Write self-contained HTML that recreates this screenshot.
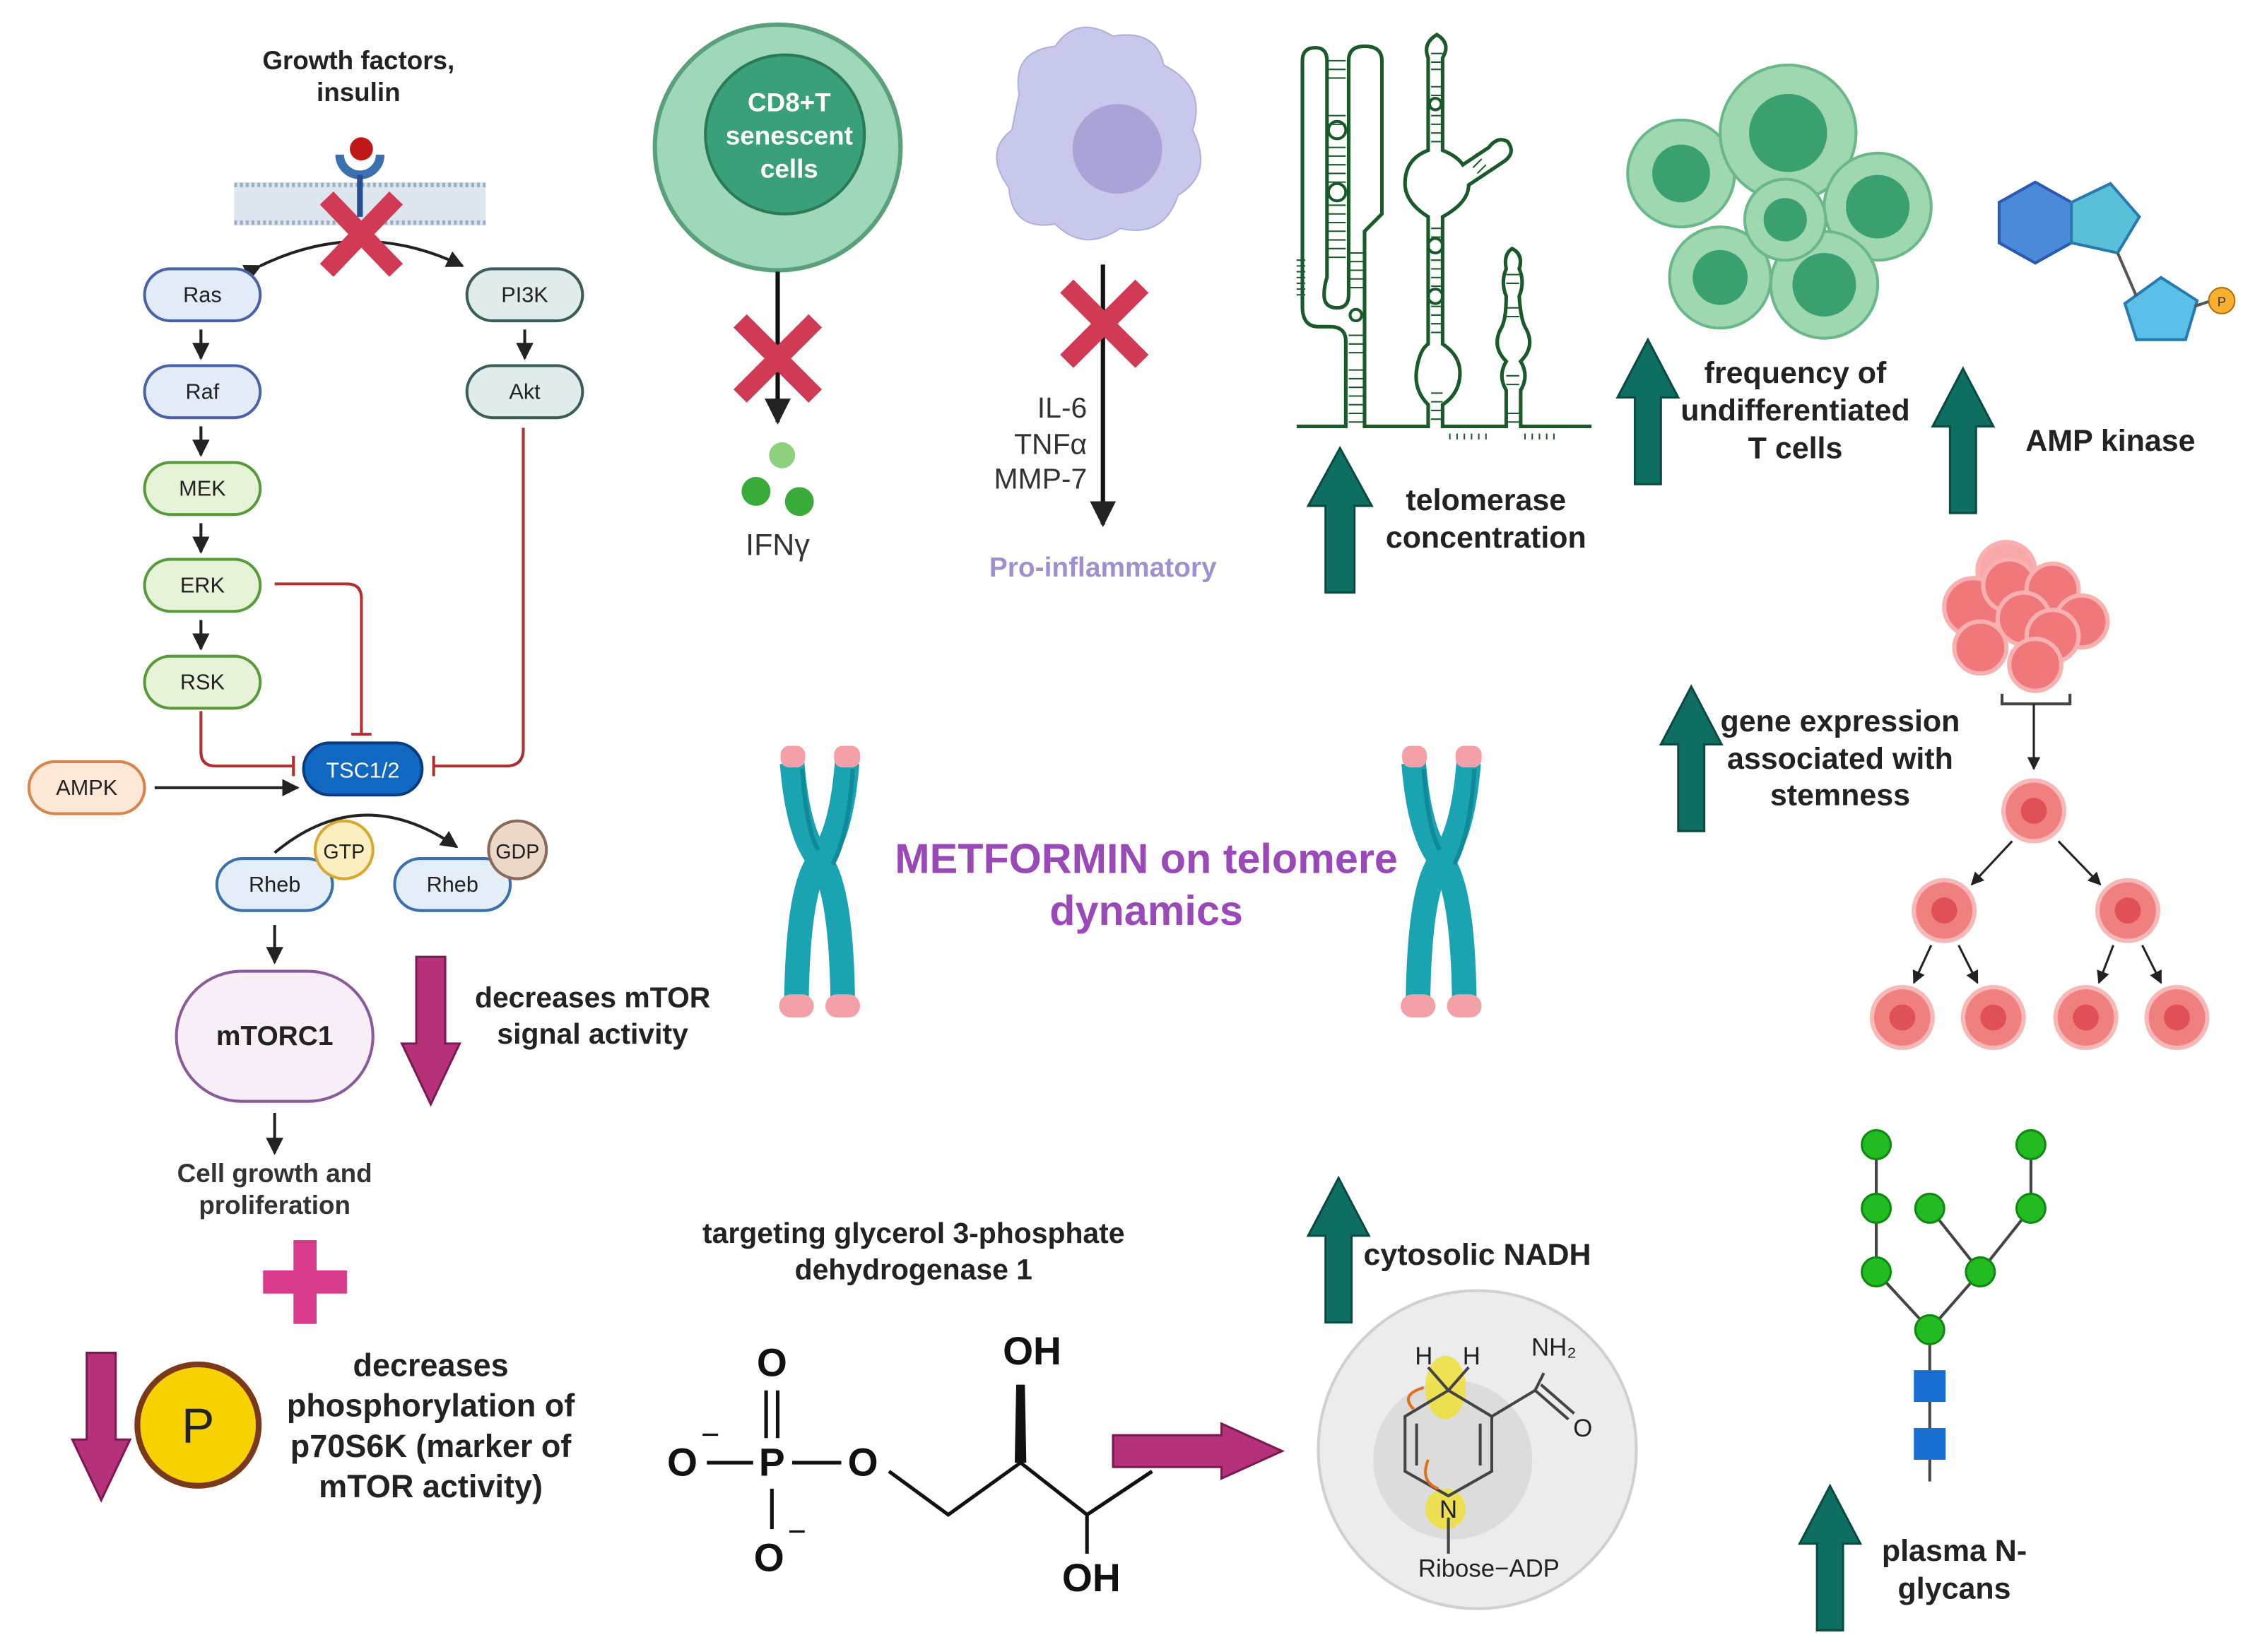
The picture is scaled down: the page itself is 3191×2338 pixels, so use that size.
<!DOCTYPE html>
<html><head><meta charset="utf-8"><style>
html,body{margin:0;padding:0;background:#fff;}
svg{display:block;}
text{font-family:"Liberation Sans",sans-serif;}
.b{font-weight:bold;}
</style></head><body>
<svg width="3191" height="2338" viewBox="0 0 1560 1143" xmlns="http://www.w3.org/2000/svg">
<defs>
<marker id="ah" viewBox="0 0 10 10" refX="9" refY="5" markerWidth="6" markerHeight="6" orient="auto"><path d="M0,0 L10,5 L0,10 z" fill="#222"/></marker>
</defs>
<rect width="1560" height="1143" fill="#fff"/>

<!-- Left pathway -->
<text x="248" y="48" text-anchor="middle" font-size="18" class="b" fill="#222">Growth factors,</text>
<text x="248" y="70" text-anchor="middle" font-size="18" class="b" fill="#222">insulin</text>
<rect x="162" y="126" width="174" height="30" fill="#dde6ee"/>
<g stroke="#9bb0c4" stroke-width="3" stroke-dasharray="2 2"><line x1="162" y1="128" x2="336" y2="128"/><line x1="162" y1="154" x2="336" y2="154"/></g>
<path d="M235,107 A14,14 0 0 0 263,107" fill="none" stroke="#3a6fb0" stroke-width="6"/>
<line x1="249" y1="121" x2="249" y2="150" stroke="#2a4f90" stroke-width="4"/>
<circle cx="250" cy="103" r="8" fill="#c01818"/>
<path d="M180,184 Q250,150 320,184" fill="none" stroke="#222" stroke-width="2" marker-start="url(#ah)" marker-end="url(#ah)"/>
<g stroke="#d03a55" stroke-width="13"><line x1="226" y1="137" x2="274" y2="187"/><line x1="274" y1="137" x2="226" y2="187"/></g>

<g font-size="15" text-anchor="middle" fill="#222">
<rect x="100" y="186" width="80" height="36" rx="18" fill="#e3eaf8" stroke="#4a62a8" stroke-width="2"/><text x="140" y="209">Ras</text>
<rect x="100" y="253" width="80" height="36" rx="18" fill="#e3eaf8" stroke="#4a62a8" stroke-width="2"/><text x="140" y="276">Raf</text>
<rect x="100" y="320" width="80" height="36" rx="18" fill="#e6f3d8" stroke="#5a9a3a" stroke-width="2"/><text x="140" y="343">MEK</text>
<rect x="100" y="387" width="80" height="36" rx="18" fill="#e6f3d8" stroke="#5a9a3a" stroke-width="2"/><text x="140" y="410">ERK</text>
<rect x="100" y="454" width="80" height="36" rx="18" fill="#e6f3d8" stroke="#5a9a3a" stroke-width="2"/><text x="140" y="477">RSK</text>
<rect x="323" y="186" width="80" height="36" rx="18" fill="#dfeceb" stroke="#3c5c5a" stroke-width="2"/><text x="363" y="209">PI3K</text>
<rect x="323" y="253" width="80" height="36" rx="18" fill="#dfeceb" stroke="#3c5c5a" stroke-width="2"/><text x="363" y="276">Akt</text>
<rect x="210" y="514" width="82" height="36" rx="18" fill="#1068c0" stroke="#0a3a80" stroke-width="2"/><text x="251" y="538" fill="#fff">TSC1/2</text>
<rect x="20" y="527" width="80" height="36" rx="18" fill="#fde8d8" stroke="#d8844a" stroke-width="2"/><text x="60" y="550">AMPK</text>
<rect x="150" y="594" width="80" height="36" rx="18" fill="#e3eef8" stroke="#3a6fb0" stroke-width="2"/><text x="190" y="617">Rheb</text>
<rect x="273" y="594" width="80" height="36" rx="18" fill="#e3eef8" stroke="#3a6fb0" stroke-width="2"/><text x="313" y="617">Rheb</text>
<circle cx="238" cy="588" r="20" fill="#fbeec0" stroke="#d8a830" stroke-width="2"/><text x="238" y="594" font-size="14">GTP</text>
<circle cx="358" cy="588" r="20" fill="#ecd8c8" stroke="#8a6a5a" stroke-width="2"/><text x="358" y="594" font-size="14">GDP</text>
<rect x="122" y="672" width="136" height="90" rx="45" fill="#f8eef8" stroke="#8a5a9a" stroke-width="2"/><text x="190" y="723" font-size="19" class="b">mTORC1</text>
</g>
<g stroke="#222" stroke-width="2" marker-end="url(#ah)">
<line x1="139" y1="228" x2="139" y2="248"/><line x1="139" y1="295" x2="139" y2="315"/><line x1="139" y1="362" x2="139" y2="382"/><line x1="139" y1="429" x2="139" y2="449"/>
<line x1="363" y1="228" x2="363" y2="248"/>
<line x1="107" y1="545" x2="206" y2="545"/>
<line x1="190" y1="640" x2="190" y2="666"/>
<line x1="190" y1="770" x2="190" y2="798"/>
</g>
<path d="M190,590 Q250,540 316,586" fill="none" stroke="#222" stroke-width="2" marker-end="url(#ah)"/>
<g stroke="#b03030" stroke-width="2" fill="none">
<path d="M190,404 H240 Q250,404 250,414 V508"/><line x1="243" y1="508" x2="257" y2="508"/>
<path d="M139,492 V520 Q139,530 149,530 H203"/><line x1="203" y1="523" x2="203" y2="537"/>
<path d="M362,296 V518 Q362,530 350,530 H300"/><line x1="300" y1="523" x2="300" y2="537"/>
</g>
<text x="190" y="818" text-anchor="middle" font-size="18" class="b" fill="#333">Cell growth and</text>
<text x="190" y="840" text-anchor="middle" font-size="18" class="b" fill="#333">proliferation</text>
<rect x="182" y="879" width="58" height="16" fill="#d83a8a"/><rect x="203" y="858" width="16" height="58" fill="#d83a8a"/>
<path d="M288,662 H308 V722 H318 L298,764 L278,722 H288 Z" fill="#b5317a" stroke="#7a1a50" stroke-width="1.5"/>
<path d="M60,936 H80 V996 H90 L70,1038 L50,996 H60 Z" fill="#b5317a" stroke="#7a1a50" stroke-width="1.5"/>
<text x="410" y="697" text-anchor="middle" font-size="20" class="b" fill="#222">decreases mTOR</text>
<text x="410" y="722" text-anchor="middle" font-size="20" class="b" fill="#222">signal activity</text>
<circle cx="137" cy="986" r="42" fill="#f8d200" stroke="#7a3a1a" stroke-width="4"/>
<text x="137" y="998" text-anchor="middle" font-size="34" fill="#222">P</text>
<g font-size="22" class="b" fill="#222" text-anchor="middle">
<text x="298" y="952">decreases</text><text x="298" y="980">phosphorylation of</text><text x="298" y="1008">p70S6K (marker of</text><text x="298" y="1036">mTOR activity)</text>
</g>

<!-- CD8 cell -->
<circle cx="538" cy="102" r="85" fill="#9fd8b8" stroke="#5aa07a" stroke-width="3"/>
<circle cx="543" cy="93" r="55" fill="#3aa07a" stroke="#2a7a5a" stroke-width="2"/>
<g fill="#fff" font-size="18" class="b" text-anchor="middle"><text x="546" y="77">CD8+T</text><text x="546" y="100">senescent</text><text x="546" y="123">cells</text></g>
<line x1="538" y1="188" x2="538" y2="292" stroke="#111" stroke-width="3" marker-end="url(#ah)"/>
<g stroke="#d03a55" stroke-width="13"><line x1="512" y1="222" x2="564" y2="274"/><line x1="564" y1="222" x2="512" y2="274"/></g>
<circle cx="541" cy="315" r="9" fill="#8fd07f"/><circle cx="523" cy="340" r="10" fill="#3aaa3a"/><circle cx="553" cy="347" r="10" fill="#3aaa3a"/>
<text x="538" y="384" text-anchor="middle" font-size="21" fill="#333">IFNγ</text>

<!-- macrophage -->
<path d="M705,65 Q700,35 730,32 Q745,10 770,25 Q800,20 805,45 Q835,60 825,90 Q840,120 815,135 Q805,165 775,158 Q750,175 730,155 Q700,160 698,130 Q680,105 700,90 Z" fill="#c8c8ec" stroke="#b0b0dc"/>
<circle cx="773" cy="103" r="31" fill="#a8a4d8"/>
<line x1="763" y1="183" x2="763" y2="363" stroke="#111" stroke-width="3" marker-end="url(#ah)"/>
<g stroke="#d03a55" stroke-width="13"><line x1="738" y1="198" x2="790" y2="250"/><line x1="790" y1="198" x2="738" y2="250"/></g>
<g font-size="20" fill="#333" text-anchor="end"><text x="752" y="289">IL-6</text><text x="752" y="314">TNFα</text><text x="752" y="338">MMP-7</text></g>
<text x="763" y="399" text-anchor="middle" font-size="19" class="b" fill="#a090d0">Pro-inflammatory</text>

<!-- RNA telomerase structure -->
<g stroke="#1a5a2a" stroke-width="1" fill="none">
<path d="M918,42 H931 M918,48 H931 M918,54 H931 M918,80 H931 M918,86 H931 M918,102 H931 M918,108 H931 M918,114 H931 M918,120 H931 M918,126 H931 M918,142 H931 M918,148 H931 M918,154 H931 M918,160 H931 M918,166 H931 M918,172 H931 M918,178 H931"/>
<path d="M933,175 H944 M933,181 H944 M933,187 H944 M933,193 H944 M933,199 H944 M933,232 H944 M933,238 H944 M933,244 H944 M933,256 H944 M933,262 H944 M933,268 H944 M933,274 H944 M933,280 H944 M933,286 H944 M933,292 H944"/>
<path d="M990,37 H998 M990,43 H998 M990,48 H998 M990,60 H998 M990,66 H998 M990,80 H998 M990,86 H998 M990,92 H998 M990,98 H998 M990,158 H998 M990,164 H998 M990,180 H998 M990,186 H998 M990,192 H998 M990,198 H998 M990,212 H998 M990,218 H998 M990,224 H998 M990,230 H998 M990,272 H998 M990,278 H998 M990,284 H998 M990,290 H998"/>
<path d="M1042,190 H1051 M1042,196 H1051 M1042,213 H1051 M1042,219 H1051 M1042,260 H1051 M1042,266 H1051 M1042,286 H1051 M1042,292 H1051"/>
<path d="M1016,112 L1022,106 M1019,116 L1025,110 M1022,120 L1028,114"/>
<path d="M903,180 H897 M903,184 H897 M903,188 H897 M903,192 H897 M903,196 H897 M903,200 H897 M903,204 H897"/>
<path d="M1003,300 V304 M1008,300 V304 M1013,300 V304 M1018,300 V304 M1023,300 V304 M1028,300 V304 M1055,300 V304 M1060,300 V304 M1065,300 V304 M1070,300 V304 M1075,300 V304"/>
</g>
<g stroke="#1a5a2a" stroke-width="2.5" fill="none">
<path d="M897,295 H931 V236 Q931,226 920,226 H912 Q901,226 901,212 V42 Q901,33 910,33 Q918,33 918,42 V192 Q916,198 916,204 Q916,213 925,213 Q933,213 933,204 V42 Q933,32 944,32 Q956,32 956,42 V148 L944,160 V295 H988 V280 Q978,270 980,256 Q982,242 988,238 V150 Q972,140 972,127 Q972,110 988,104 V40 Q984,30 994,24 Q1004,30 998,40 V104 Q1008,108 1012,114 L1030,102 Q1036,94 1043,98 Q1049,106 1040,112 L1016,128 Q1016,140 998,150 V238 Q1010,246 1010,258 Q1010,272 998,280 V295 H1042 V270 Q1036,260 1042,250 Q1032,240 1038,228 Q1042,222 1042,205 Q1038,195 1042,186 Q1040,176 1046,172 Q1054,176 1051,186 Q1055,195 1051,205 Q1052,222 1056,228 Q1062,240 1052,250 Q1058,260 1052,270 V295 H1101"/>
</g>
<g stroke="#1a5a2a" stroke-width="2" fill="none">
<circle cx="925" cy="90" r="6"/><circle cx="925" cy="133" r="6"/><circle cx="938" cy="218" r="4"/>
<circle cx="993" cy="170" r="5"/><circle cx="993" cy="205" r="5"/><circle cx="993" cy="72" r="4"/>
</g>
<path d="M917,410 V350 H905 L927,310 L949,350 H937 V410 Z" fill="#0f6e62" stroke="#0a4a40" stroke-width="1.5"/>
<text x="1028" y="353" text-anchor="middle" font-size="21" class="b" fill="#222">telomerase</text>
<text x="1028" y="379" text-anchor="middle" font-size="21" class="b" fill="#222">concentration</text>

<!-- cell cluster -->
<g fill="#9fd8b0" stroke="#6ab88a" stroke-width="2">
<circle cx="1163" cy="120" r="37"/><circle cx="1237" cy="92" r="47"/><circle cx="1299" cy="143" r="37"/><circle cx="1190" cy="192" r="35"/><circle cx="1262" cy="197" r="37"/><circle cx="1235" cy="152" r="28"/>
</g>
<g fill="#3aa070"><circle cx="1163" cy="120" r="20"/><circle cx="1237" cy="92" r="27"/><circle cx="1299" cy="143" r="22"/><circle cx="1190" cy="192" r="19"/><circle cx="1262" cy="197" r="22"/><circle cx="1235" cy="152" r="15"/></g>
<path d="M1131,335 V275 H1119 L1140,235 L1161,275 H1149 V335 Z" fill="#0f6e62" stroke="#0a4a40" stroke-width="1.5"/>
<g font-size="21" class="b" fill="#222" text-anchor="middle"><text x="1242" y="265">frequency of</text><text x="1242" y="291">undifferentiated</text><text x="1242" y="317">T cells</text></g>

<!-- AMP -->
<polygon points="1383,140 1408,126 1433,140 1433,168 1408,182 1383,168" fill="#4a8ad8" stroke="#2a5ab0" stroke-width="2"/>
<polygon points="1433,140 1460,127 1480,150 1465,175 1433,168" fill="#5ac0d8" stroke="#2a7ab0" stroke-width="2"/>
<polygon points="1470,210 1495,192 1520,208 1512,235 1478,235" fill="#5ac0e8" stroke="#2a7ab0" stroke-width="2"/>
<line x1="1465" y1="175" x2="1478" y2="205" stroke="#555" stroke-width="2"/><line x1="1518" y1="212" x2="1530" y2="208" stroke="#555" stroke-width="2"/>
<circle cx="1537" cy="208" r="9" fill="#f8b030" stroke="#b07010"/><text x="1537" y="212" text-anchor="middle" font-size="9" fill="#333">P</text>
<path d="M1349,355 V295 H1337 L1358,255 L1379,295 H1367 V355 Z" fill="#0f6e62" stroke="#0a4a40" stroke-width="1.5"/>
<text x="1460" y="312" text-anchor="middle" font-size="21" class="b" fill="#222">AMP kinase</text>

<!-- stem cells -->
<g fill="#f0787a" stroke="#f8b0b0" stroke-width="3">
<circle cx="1388" cy="395" r="20" fill="#f8a8a8"/><circle cx="1365" cy="420" r="20"/><circle cx="1390" cy="405" r="18"/><circle cx="1420" cy="408" r="18"/><circle cx="1440" cy="430" r="18"/><circle cx="1400" cy="428" r="18"/><circle cx="1370" cy="448" r="18"/><circle cx="1420" cy="440" r="18"/><circle cx="1408" cy="460" r="18"/>
</g>
<path d="M1385,480 V487 H1432 V480" fill="none" stroke="#444" stroke-width="2"/>
<line x1="1407" y1="487" x2="1407" y2="532" stroke="#222" stroke-width="1.5" marker-end="url(#ah)"/>
<g fill="#f08080" stroke="#f8b8b8" stroke-width="3">
<circle cx="1407" cy="561" r="21"/><circle cx="1345" cy="630" r="21"/><circle cx="1472" cy="630" r="21"/>
<circle cx="1316" cy="704" r="21"/><circle cx="1379" cy="704" r="21"/><circle cx="1443" cy="704" r="21"/><circle cx="1506" cy="704" r="21"/>
</g>
<g fill="#e05058"><circle cx="1407" cy="561" r="9"/><circle cx="1345" cy="630" r="9"/><circle cx="1472" cy="630" r="9"/><circle cx="1316" cy="704" r="9"/><circle cx="1379" cy="704" r="9"/><circle cx="1443" cy="704" r="9"/><circle cx="1506" cy="704" r="9"/></g>
<g stroke="#222" stroke-width="1.5" marker-end="url(#ah)">
<line x1="1392" y1="582" x2="1364" y2="612"/><line x1="1424" y1="582" x2="1453" y2="612"/>
<line x1="1336" y1="654" x2="1324" y2="680"/><line x1="1355" y1="654" x2="1368" y2="680"/>
<line x1="1462" y1="654" x2="1452" y2="680"/><line x1="1482" y1="654" x2="1495" y2="680"/>
</g>
<path d="M1161,575 V515 H1149 L1170,475 L1191,515 H1179 V575 Z" fill="#0f6e62" stroke="#0a4a40" stroke-width="1.5"/>
<g font-size="21" class="b" fill="#222" text-anchor="middle"><text x="1273" y="506">gene expression</text><text x="1273" y="532">associated with</text><text x="1273" y="557">stemness</text></g>

<!-- Chromosomes -->
<g id="chr">
<path d="M548,528 Q552,578 567,595 Q582,614 583,692" fill="none" stroke="#1aa3b0" stroke-width="17"/>
<path d="M586,528 Q582,578 567,595 Q552,614 551,692" fill="none" stroke="#1aa3b0" stroke-width="17"/>
<path d="M555,532 Q558,575 566,588" fill="none" stroke="#0f8a96" stroke-width="3"/>
<path d="M590,532 Q587,578 576,598" fill="none" stroke="#0f8a96" stroke-width="3"/>
<rect x="540" y="516" width="17" height="15" rx="6" fill="#f4a0a8"/><rect x="577" y="516" width="18" height="15" rx="6" fill="#f4a0a8"/>
<rect x="539" y="688" width="24" height="16" rx="8" fill="#f4a0a8"/><rect x="571" y="688" width="24" height="16" rx="8" fill="#f4a0a8"/>
</g>
<use href="#chr" x="430"/>
<text x="793" y="604" text-anchor="middle" font-size="29" class="b" fill="#9a4ab8">METFORMIN on telomere</text>
<text x="793" y="640" text-anchor="middle" font-size="29" class="b" fill="#9a4ab8">dynamics</text>

<!-- Glycerol phosphate -->
<g font-size="20" class="b" fill="#222" text-anchor="middle"><text x="632" y="860">targeting glycerol 3-phosphate</text><text x="632" y="885">dehydrogenase 1</text></g>
<g font-size="27" class="b" fill="#111" text-anchor="middle">
<text x="534" y="952">O</text><text x="534" y="1021">P</text><text x="472" y="1021">O</text><text x="597" y="1021">O</text><text x="532" y="1087">O</text><text x="714" y="944">OH</text><text x="755" y="1101">OH</text>
</g>
<text x="485" y="1000" font-size="22" fill="#111">−</text><text x="545" y="1067" font-size="22" fill="#111">−</text>
<g stroke="#111" stroke-width="2.5" fill="none">
<line x1="530" y1="962" x2="530" y2="995"/><line x1="538" y1="962" x2="538" y2="995"/>
<line x1="489" y1="1012" x2="521" y2="1012"/><line x1="548" y1="1012" x2="582" y2="1012"/>
<line x1="534" y1="1030" x2="534" y2="1058"/>
<polyline points="615,1018 656,1048 706,1012 752,1048 797,1018"/>
<line x1="752" y1="1048" x2="752" y2="1075"/>
</g>
<polygon points="702,1012 710,1012 709,958 703,958" fill="#111"/>
<path d="M770,993 H845 V985 L887,1004 L845,1023 V1015 H770 Z" fill="#b5317a" stroke="#7a1a50" stroke-width="1.5"/>

<!-- NADH -->
<path d="M917,915 V855 H905 L926,815 L947,855 H935 V915 Z" fill="#0f6e62" stroke="#0a4a40" stroke-width="1.5"/>
<text x="1022" y="875" text-anchor="middle" font-size="21" class="b" fill="#222">cytosolic NADH</text>
<circle cx="1022" cy="1003" r="110" fill="#ececec" stroke="#d0d0d0" stroke-width="2"/>
<circle cx="1005" cy="1010" r="55" fill="#dcdcdc"/>
<ellipse cx="1000" cy="960" rx="14" ry="22" fill="#f0e030" opacity="0.8"/>
<circle cx="1000" cy="1044" r="14" fill="#f0e030" opacity="0.8"/>
<g stroke="#444" stroke-width="2" fill="none">
<polygon points="1002,962 1032,980 1032,1018 1002,1035 972,1018 972,980"/>
<line x1="980" y1="985" x2="980" y2="1014"/><line x1="1024" y1="985" x2="1024" y2="1014"/>
<line x1="1002" y1="962" x2="988" y2="946"/><line x1="1002" y1="962" x2="1016" y2="946"/>
<line x1="1032" y1="980" x2="1062" y2="962"/><line x1="1062" y1="962" x2="1068" y2="950"/><line x1="1062" y1="962" x2="1085" y2="982"/><line x1="1066" y1="958" x2="1089" y2="978"/>
<line x1="1002" y1="1050" x2="1002" y2="1075"/>
</g>
<path d="M985,960 Q968,965 978,975" fill="none" stroke="#e07020" stroke-width="2"/><path d="M988,1010 Q982,1025 995,1030" fill="none" stroke="#e07020" stroke-width="2"/>
<g font-size="17" fill="#222" text-anchor="middle"><text x="985" y="944">H</text><text x="1018" y="944">H</text><text x="1075" y="938">NH₂</text><text x="1095" y="994">O</text><text x="1002" y="1050">N</text><text x="1030" y="1091">Ribose−ADP</text></g>

<!-- glycan -->
<g stroke="#444" stroke-width="2" fill="none">
<line x1="1335" y1="1025" x2="1335" y2="920"/><line x1="1335" y1="920" x2="1298" y2="880"/><line x1="1335" y1="920" x2="1370" y2="880"/>
<line x1="1298" y1="880" x2="1298" y2="792"/><line x1="1370" y1="880" x2="1405" y2="836"/><line x1="1370" y1="880" x2="1335" y2="836"/><line x1="1405" y1="836" x2="1405" y2="792"/>
</g>
<g fill="#22bb22" stroke="#118811" stroke-width="1.5">
<circle cx="1298" cy="792" r="10"/><circle cx="1298" cy="836" r="10"/><circle cx="1298" cy="880" r="10"/><circle cx="1335" cy="836" r="10"/><circle cx="1405" cy="792" r="10"/><circle cx="1405" cy="836" r="10"/><circle cx="1370" cy="880" r="10"/><circle cx="1335" cy="920" r="10"/>
</g>
<rect x="1324" y="948" width="22" height="22" fill="#1a70d0"/><rect x="1324" y="988" width="22" height="22" fill="#1a70d0"/>
<path d="M1257,1128 V1068 H1245 L1266,1028 L1287,1068 H1275 V1128 Z" fill="#0f6e62" stroke="#0a4a40" stroke-width="1.5"/>
<text x="1352" y="1080" text-anchor="middle" font-size="21" class="b" fill="#222">plasma N-</text>
<text x="1352" y="1106" text-anchor="middle" font-size="21" class="b" fill="#222">glycans</text>
</svg>
</body></html>
